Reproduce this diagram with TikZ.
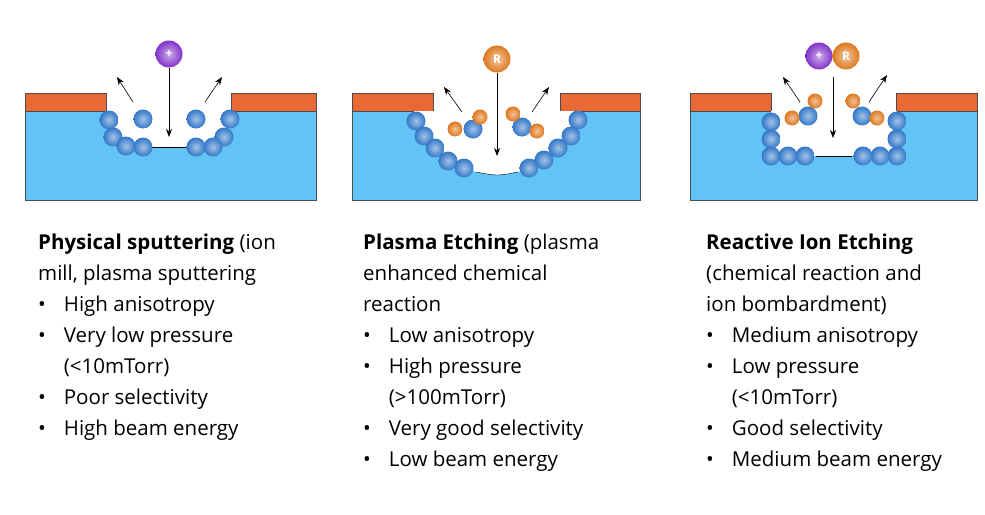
\documentclass[tikz,border=0pt]{standalone}
\usepackage{fontspec}
\setmainfont{Open Sans}
\usetikzlibrary{arrows.meta, positioning, shapes}
\definecolor{Substrate}{RGB}{98, 196, 246}
\definecolor{Mask}{RGB}{234, 104, 52}
\definecolor{Atom}{RGB}{50, 120, 200}
\definecolor{Radical}{RGB}{222, 120, 30}
\definecolor{Ion}{RGB}{130, 50, 200}
\newcommand{\sbul}{\textbullet}
\begin{document}
\begin{tikzpicture}[x=1pt, y=-1pt,
        atom/.style={circle, inner sep=0pt, minimum size=19pt, shading=radial, inner color=Atom!45!white, outer color=Atom},
        rad/.style={circle, inner sep=0pt, minimum size=15pt, shading=radial, inner color=Radical!45!white, outer color=Radical},
        beam/.style={circle, inner sep=0pt, minimum size=27pt, text=white, font=\bfseries\large, shading=radial},
        arrow/.style={-{Stealth[length=8pt]}, semithick},
        info/.style={anchor=north west, inner sep=0pt, font=\fontsize{20.5}{31}\selectfont}
    ]
    \useasboundingbox (0,0) rectangle (985,514);
    % panel 1: physical sputtering
    \fill[Substrate, draw=black!70] (25,111) rectangle (316,200);
    \fill[Mask, draw=black!70] (25,93) rectangle (106,111);
    \fill[Mask, draw=black!70] (231,93) rectangle (316,111);
    \fill[white] (106,111) -- (109,120) -- (113,137) -- (126,146) -- (143,147) -- (196,147) -- (213,147) -- (224,137) -- (230,119) -- (231,111) -- cycle;
    \draw (150,147) -- (190,147);
    \foreach \p in {(109,120),(143,119),(113,137),(126,146),(143,147),(196,119),(230,119),(224,137),(213,147),(196,147)}
        \node[atom] at \p {};
    \node[beam, inner color=Ion!40!white, outer color=Ion] (ion1) at (169,54) {+};
    \coordinate (hit1) at (169,137);
    \draw[arrow] (ion1) -- (hit1);
    \draw[arrow] (133,102) -- (117,77);
    \draw[arrow] (205,102) -- (222,77);
    % panel 2: plasma etching
    \fill[Substrate, draw=black!70] (352,111) rectangle (640,200);
    \fill[Mask, draw=black!70] (352,93) rectangle (433,111);
    \fill[Mask, draw=black!70] (560,93) rectangle (640,111);
    \fill[white] (414,111) -- (416,121) -- (424,136) -- (435,148) -- (448,161) -- (464,168) -- (476,172) .. controls (497,176) .. (518,172) -- (529,168) -- (544,160) -- (558,148) -- (571,136) -- (578,120) -- (580,111) -- cycle;
    \draw (476,172) .. controls (497,176) .. (518,172);
    \foreach \p in {(416,121),(424,136),(435,148),(448,161),(464,168),(578,120),(571,136),(558,148),(544,160),(529,168),(473,129),(522,127)}
        \node[atom] at \p {};
    \foreach \p in {(455,129),(480,117),(513,114),(537,131)}
        \node[rad] at \p {};
    \node[beam, inner color=Radical!40!white, outer color=Radical] (rad2) at (497,59) {R};
    \coordinate (hit2) at (497,156);
    \draw[arrow] (rad2) -- (hit2);
    \draw[arrow] (462,112) -- (444,87);
    \draw[arrow] (532,112) -- (549,87);
    % panel 3: reactive ion etching
    \fill[Substrate, draw=black!70] (690,111) rectangle (977,200);
    \fill[Mask, draw=black!70] (690,93) rectangle (771,111);
    \fill[Mask, draw=black!70] (896,93) rectangle (977,111);
    \fill[white] (771,111) rectangle (897,156);
    \draw (816,156) -- (852,156);
    \foreach \p in {(771,122),(771,139),(771,156),(788,156),(805,156),(897,121),(897,139),(897,156),(880,156),(863,156),(808,116),(862,116)}
        \node[atom] at \p {};
    \foreach \p in {(792,118),(815,101),(853,101),(877,118)}
        \node[rad] at \p {};
    \node[beam, inner color=Ion!40!white, outer color=Ion] (ion3) at (819,56) {+};
    \node[beam, inner color=Radical!40!white, outer color=Radical] (rad3) at (846,56) {R};
    \coordinate (top3) at (833,77);
    \coordinate (hit3) at (833,138);
    \draw[arrow] (top3) -- (hit3);
    \draw[arrow] (800,102) -- (783,77);
    \draw[arrow] (869,102) -- (887,75);
    % descriptions
    \node[info] (txt1) at (38,228) {\begin{tabular}{@{}l@{\hspace{18pt}}l@{}}
        \multicolumn{2}{@{}l}{\textbf{Physical sputtering} (ion}\\
        \multicolumn{2}{@{}l}{mill, plasma sputtering}\\
        \sbul & High anisotropy\\
        \sbul & Very low pressure\\
              & (<10mTorr)\\
        \sbul & Poor selectivity\\
        \sbul & High beam energy
    \end{tabular}};
    \node[info] (txt2) at (363,228) {\begin{tabular}{@{}l@{\hspace{18pt}}l@{}}
        \multicolumn{2}{@{}l}{\textbf{Plasma Etching} (plasma}\\
        \multicolumn{2}{@{}l}{enhanced chemical}\\
        \multicolumn{2}{@{}l}{reaction}\\
        \sbul & Low anisotropy\\
        \sbul & High pressure\\
              & (>100mTorr)\\
        \sbul & Very good selectivity\\
        \sbul & Low beam energy
    \end{tabular}};
    \node[info] (txt3) at (706,228) {\begin{tabular}{@{}l@{\hspace{18pt}}l@{}}
        \multicolumn{2}{@{}l}{\textbf{Reactive Ion Etching}}\\
        \multicolumn{2}{@{}l}{(chemical reaction and}\\
        \multicolumn{2}{@{}l}{ion bombardment)}\\
        \sbul & Medium anisotropy\\
        \sbul & Low pressure\\
              & (<10mTorr)\\
        \sbul & Good selectivity\\
        \sbul & Medium beam energy
    \end{tabular}};
\end{tikzpicture}
\end{document}
